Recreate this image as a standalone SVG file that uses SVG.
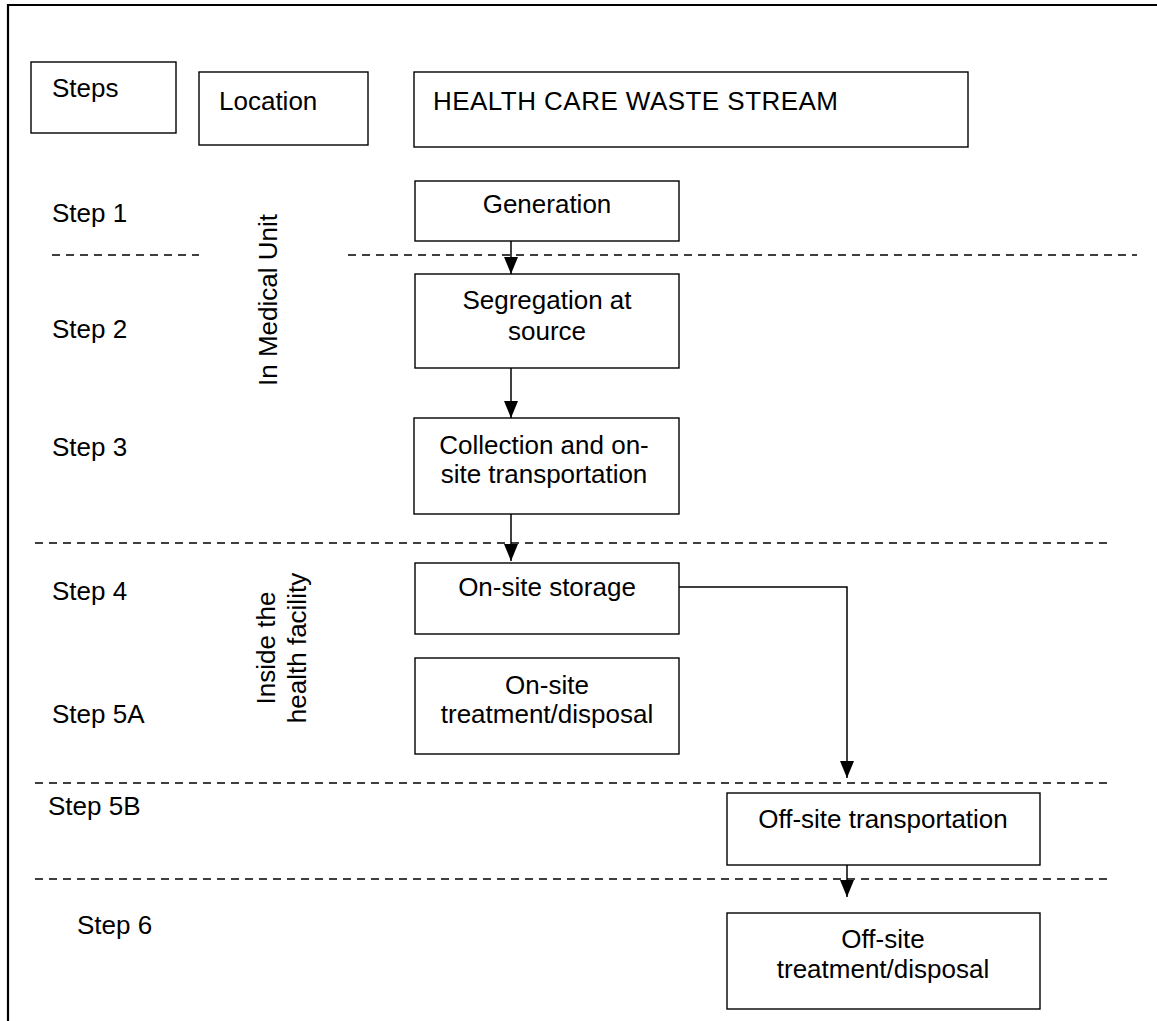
<svg xmlns="http://www.w3.org/2000/svg" width="1157" height="1021" viewBox="0 0 1157 1021">
  <defs>
    <style>
      text { font-family: "Liberation Sans", Arial, sans-serif; font-size: 26px; fill: #000; }
      .box { fill: #fff; stroke: #000; stroke-width: 1.4; }
      .frame { fill: none; stroke: #000; stroke-width: 2.2; }
      .dash { fill: none; stroke: #000; stroke-width: 1.4; stroke-dasharray: 8 6; }
      .flow { fill: none; stroke: #000; stroke-width: 1.5; }
      .mid { text-anchor: middle; }
    </style>
    <marker id="arrow" viewBox="0 0 17 14" refX="17" refY="7" markerWidth="17" markerHeight="14" markerUnits="userSpaceOnUse" orient="auto">
      <path d="M0,0 L17,7 L0,14 Z" fill="#000"/>
    </marker>
  </defs>

  <!-- outer frame (left and top edges) -->
  <path class="frame" d="M8,1021 V5 H1157"/>

  <!-- lane separators -->
  <g id="separators">
    <line class="dash" x1="52" y1="255" x2="199" y2="255"/>
    <line class="dash" x1="348" y1="255" x2="1137" y2="255"/>
    <line class="dash" x1="35" y1="543" x2="1112" y2="543"/>
    <line class="dash" x1="35" y1="783" x2="1112" y2="783"/>
    <line class="dash" x1="35" y1="879" x2="1112" y2="879"/>
  </g>

  <!-- column headers -->
  <g id="hdr-steps">
    <rect class="box" x="31" y="62" width="145" height="71"/>
    <text x="52" y="97">Steps</text>
  </g>
  <g id="hdr-location">
    <rect class="box" x="199" y="72" width="169" height="73"/>
    <text x="219" y="110">Location</text>
  </g>
  <g id="hdr-stream">
    <rect class="box" x="414" y="72" width="554" height="75"/>
    <text x="433" y="110" textLength="405">HEALTH CARE WASTE STREAM</text>
  </g>

  <!-- step labels -->
  <g id="step-labels">
    <text x="52" y="222">Step 1</text>
    <text x="52" y="338">Step 2</text>
    <text x="52" y="456">Step 3</text>
    <text x="52" y="600">Step 4</text>
    <text x="52" y="723">Step 5A</text>
    <text x="48" y="815">Step 5B</text>
    <text x="77" y="934">Step 6</text>
  </g>

  <!-- location labels -->
  <g id="loc-medical-unit">
    <text class="mid" transform="translate(277,300) rotate(-90)">In Medical Unit</text>
  </g>
  <g id="loc-facility">
    <text class="mid" transform="translate(275,648) rotate(-90)">Inside the</text>
    <text class="mid" transform="translate(306,648) rotate(-90)">health facility</text>
  </g>

  <!-- process nodes -->
  <g id="generation">
    <rect class="box" x="415" y="181" width="264" height="60"/>
    <text class="mid" x="547" y="213">Generation</text>
  </g>
  <g id="segregation">
    <rect class="box" x="415" y="274" width="264" height="94"/>
    <text class="mid" x="547" y="309">Segregation at</text>
    <text class="mid" x="547" y="340">source</text>
  </g>
  <g id="collection">
    <rect class="box" x="414" y="418" width="265" height="96"/>
    <text class="mid" x="544" y="454">Collection and on-</text>
    <text class="mid" x="544" y="483">site transportation</text>
  </g>
  <g id="storage">
    <rect class="box" x="415" y="563" width="264" height="71"/>
    <text class="mid" x="547" y="596">On-site storage</text>
  </g>
  <g id="onsite-treatment">
    <rect class="box" x="415" y="658" width="264" height="96"/>
    <text class="mid" x="547" y="694">On-site</text>
    <text class="mid" x="547" y="723">treatment/disposal</text>
  </g>
  <g id="offsite-transport">
    <rect class="box" x="727" y="793" width="313" height="72"/>
    <text class="mid" x="883" y="828">Off-site transportation</text>
  </g>
  <g id="offsite-treatment">
    <rect class="box" x="727" y="913" width="313" height="96"/>
    <text class="mid" x="883" y="948">Off-site</text>
    <text class="mid" x="883" y="978">treatment/disposal</text>
  </g>

  <!-- connectors -->
  <g id="connectors">
    <line class="flow" x1="511" y1="241" x2="511" y2="274" marker-end="url(#arrow)"/>
    <line class="flow" x1="511" y1="368" x2="511" y2="418" marker-end="url(#arrow)"/>
    <line class="flow" x1="511" y1="514" x2="511" y2="561" marker-end="url(#arrow)"/>
    <polyline class="flow" points="679,587 847,587 847,778" marker-end="url(#arrow)"/>
    <line class="flow" x1="847" y1="865" x2="847" y2="897" marker-end="url(#arrow)"/>
  </g>
</svg>
